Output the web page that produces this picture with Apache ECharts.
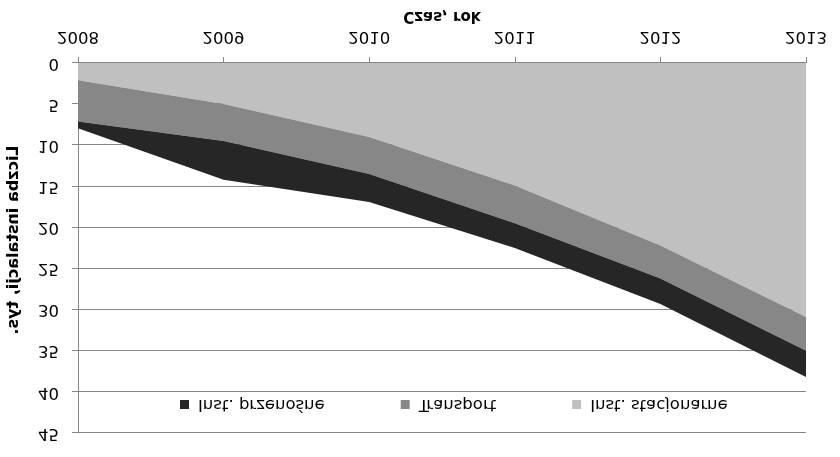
<!DOCTYPE html>
<html>
<head>
<meta charset="utf-8">
<script src="https://cdn.jsdelivr.net/npm/echarts@6/dist/echarts.min.js"></script>
<style>
  html, body { margin: 0; padding: 0; background: #fff; }
  /* the reference is a vertically mirrored chart */
  #chart { width: 840px; height: 457px; transform: scaleY(-1); }
</style>
</head>
<body>
<div id="chart"></div>
<script>
// Data (thousands of installations), stacked from the bottom up
const years = ['2008', '2009', '2010', '2011', '2012', '2013']
const stacjonarne = [2.1, 5.0, 9.0, 14.9, 22.2, 30.9]
const transport = [5.0, 4.5, 4.5, 4.6, 4.0, 4.1]
const przenosne = [0.85, 4.7, 3.4, 3.0, 3.1, 3.2]

const font = 'DejaVu Sans'

const chart = echarts.init(document.getElementById('chart'), null, { renderer: 'canvas' })

const areaSeries = (name, data, color) => ({
  name: name,
  type: 'line',
  stack: 'total',
  data: data,
  showSymbol: false,
  lineStyle: { width: 0 },
  itemStyle: { color: color },
  areaStyle: { color: color, opacity: 1 }
})

chart.setOption({
  backgroundColor: '#ffffff',
  animation: false,
  grid: { left: 78, right: 34, top: 24, bottom: 63, outerBoundsMode: 'none', containLabel: false },
  legend: {
    data: ['Inst. przenośne', 'Transport', 'Inst. stacjonarne'],
    left: 175,
    top: 39,
    itemWidth: 9,
    itemHeight: 9,
    itemGap: 76,
    icon: 'rect',
    textStyle: { fontFamily: font, fontSize: 16.5, color: '#000', padding: [0, 0, 0, 4] }
  },
  xAxis: {
    type: 'category',
    data: years,
    boundaryGap: false,
    name: 'Czas, rok',
    nameLocation: 'middle',
    nameGap: 38,
    nameTextStyle: { fontFamily: font, fontSize: 15, fontWeight: 'bold', color: '#000' },
    axisLine: { lineStyle: { color: '#868686' } },
    axisTick: { lineStyle: { color: '#868686' }, length: 6 },
    axisLabel: { fontFamily: font, fontSize: 16.5, color: '#000', margin: 18 }
  },
  yAxis: {
    type: 'value',
    min: 0,
    max: 45,
    interval: 5,
    name: 'Liczba instalacji, tys.',
    nameLocation: 'middle',
    nameGap: 56,
    nameRotate: 90,
    nameTextStyle: { fontFamily: font, fontSize: 16, fontWeight: 'bold', color: '#000', padding: [0, 16, 0, 0] },
    axisLine: { show: true, lineStyle: { color: '#868686' } },
    axisTick: { show: true, lineStyle: { color: '#868686' }, length: 6 },
    axisLabel: { fontFamily: font, fontSize: 16.5, color: '#000', margin: 19 },
    splitLine: { lineStyle: { color: '#868686' } }
  },
  series: [
    areaSeries('Inst. stacjonarne', stacjonarne, '#c0c0c0'),
    areaSeries('Transport', transport, '#878787'),
    areaSeries('Inst. przenośne', przenosne, '#262626')
  ]
})
</script>
</body>
</html>
